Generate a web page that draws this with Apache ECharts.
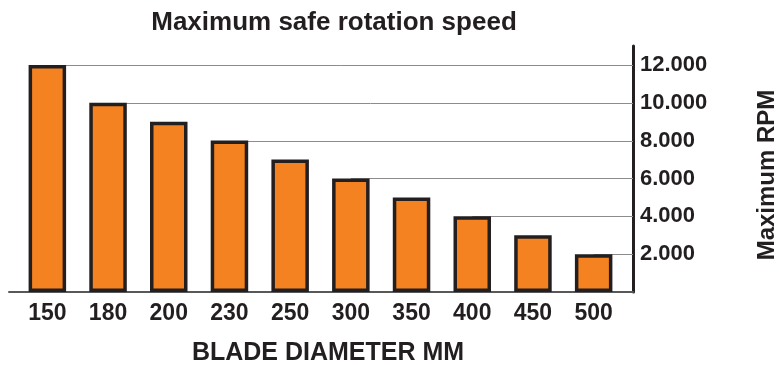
<!DOCTYPE html>
<html>
<head>
<meta charset="utf-8">
<script src="https://cdn.jsdelivr.net/npm/echarts@6/dist/echarts.min.js"></script>
<style>
  html, body { margin: 0; padding: 0; background: #ffffff; }
  #chart { width: 779px; height: 365px; }
</style>
</head>
<body>
<div id="chart"></div>
<script>
// Blade diameters (mm) and their maximum safe rotation speed (RPM)
const diameters = ['150', '180', '200', '230', '250', '300', '350', '400', '450', '500'];
const maxRpm = [12000, 10000, 9000, 8000, 7000, 6000, 5000, 4000, 3000, 2000];
const rpmTicks = [2000, 4000, 6000, 8000, 10000, 12000];

const INK = '#231f20';
const ORANGE = '#f58220';
const GRID_GRAY = '#8c8c8c';
const FONT = '"Liberation Sans", Arial, sans-serif';
const AXIS_OFFSET = 9;

// Thousands separator with a dot, e.g. 12000 -> "12.000"
function fmt(v) {
  return rpmTicks.indexOf(v) >= 0 ? String(v).replace(/\B(?=(\d{3})+(?!\d))/g, '.') : '';
}

// Each tick's guide line starts at the bar that reaches that value
const guides = rpmTicks.map(function (t) {
  return [maxRpm.indexOf(t), t];
});

const chart = echarts.init(document.getElementById('chart'), null, { renderer: 'canvas' });

chart.setOption({
  animation: false,
  title: {
    text: 'Maximum safe rotation speed',
    left: 329,
    top: 5,
    textAlign: 'center',
    textStyle: { fontFamily: FONT, fontWeight: 'bold', fontSize: 26, color: INK }
  },
  grid: [
    { left: 17, right: 155, top: 46, bottom: 73, containLabel: false, outerBoundsMode: 'none' },
    // wider frame used only to draw the baseline across the full plot width
    { left: 9, right: 146, top: 46, bottom: 73, containLabel: false, outerBoundsMode: 'none' }
  ],
  xAxis: [
    {
      type: 'category',
      gridIndex: 0,
      data: diameters,
      axisLine: { show: false },
      axisTick: { show: false },
      axisLabel: { margin: 10, fontFamily: FONT, fontWeight: 'bold', fontSize: 23, color: INK },
      name: 'BLADE DIAMETER MM',
      nameLocation: 'middle',
      nameGap: 49,
      nameTextStyle: { fontFamily: FONT, fontWeight: 'bold', fontSize: 25, color: INK, padding: [0, 0, 0, 15] }
    },
    {
      type: 'value',
      gridIndex: 1,
      min: 0,
      max: 1,
      axisLine: { show: true, lineStyle: { color: '#58585a', width: 2 } },
      axisTick: { show: false },
      axisLabel: { show: false },
      splitLine: { show: false }
    }
  ],
  yAxis: [
    {
      type: 'value',
      gridIndex: 0,
      position: 'right',
      offset: AXIS_OFFSET,
      min: 0,
      max: 13000,
      interval: 2000,
      axisLine: { show: true, lineStyle: { color: INK, width: 3 } },
      axisTick: { show: false },
      axisLabel: {
        margin: 7,
        showMinLabel: false,
        showMaxLabel: false,
        formatter: fmt,
        fontFamily: FONT, fontWeight: 'bold', fontSize: 22, color: INK
      },
      splitLine: { show: false },
      name: 'Maximum RPM',
      nameLocation: 'middle',
      nameRotate: 90,
      nameGap: 122,
      nameTextStyle: { fontFamily: FONT, fontWeight: 'bold', fontSize: 24, color: INK, padding: [0, 12, 0, 0] }
    },
    {
      type: 'value',
      gridIndex: 1,
      show: false
    }
  ],
  series: [
    {
      // guide lines from each bar top across to the RPM axis
      type: 'custom',
      xAxisIndex: 0,
      yAxisIndex: 0,
      z: 1,
      silent: true,
      data: guides,
      renderItem: function (params, api) {
        const p = api.coord([api.value(0), api.value(1)]);
        const xEnd = params.coordSys.x + params.coordSys.width + AXIS_OFFSET;
        return {
          type: 'line',
          shape: { x1: p[0], y1: Math.round(p[1]) + 0.5, x2: xEnd, y2: Math.round(p[1]) + 0.5 },
          style: { stroke: GRID_GRAY, lineWidth: 1 }
        };
      }
    },
    {
      type: 'bar',
      xAxisIndex: 0,
      yAxisIndex: 0,
      z: 2,
      data: maxRpm,
      barWidth: 37.5,
      itemStyle: { color: ORANGE, borderColor: INK, borderWidth: 3.5 }
    }
  ]
});
</script>
</body>
</html>
